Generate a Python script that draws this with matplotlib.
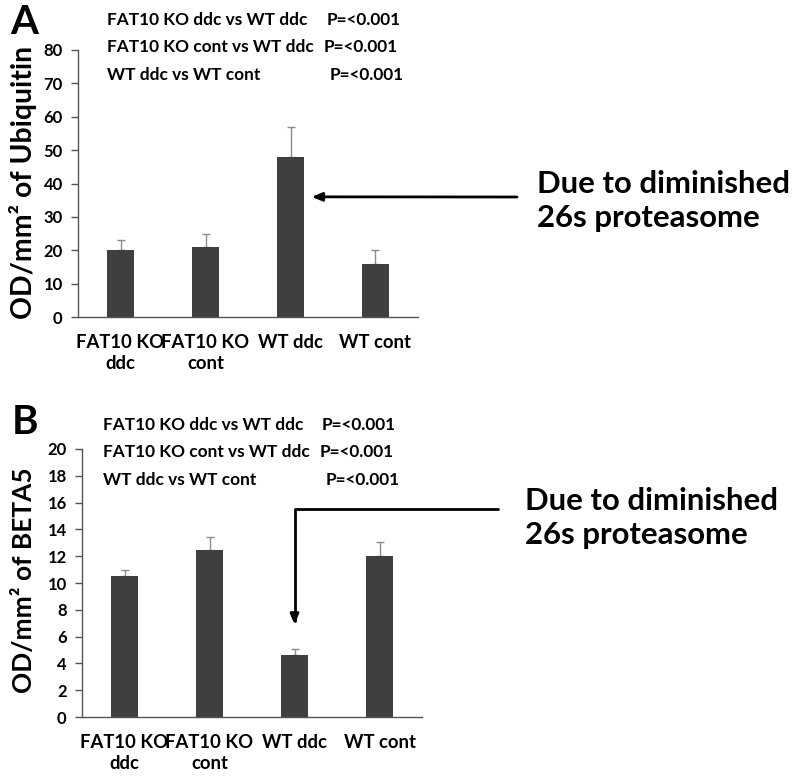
import matplotlib
matplotlib.use("Agg")
import matplotlib.pyplot as plt

plt.rcParams['font.family'] = ['Lato', 'DejaVu Sans']
plt.rcParams['font.weight'] = 'bold'

categories = ["FAT10 KO\nddc", "FAT10 KO\ncont", "WT ddc", "WT cont"]
ubiquitin = [20, 21, 48, 16]
ubiquitin_err = [3, 4, 9, 4]
beta5 = [10.5, 12.5, 4.6, 12.0]
beta5_err = [0.5, 0.9, 0.5, 1.05]
stats_labels = ["FAT10 KO ddc vs WT ddc", "FAT10 KO cont vs WT ddc", "WT ddc vs WT cont"]
stats_p = ["P=<0.001", "P=<0.001", "P=<0.001"]
note = "Due to diminished\n26s proteasome"

W, H = 794, 780
fig = plt.figure(figsize=(W / 100, H / 100), dpi=100)
fig.patch.set_facecolor('white')
renderer = fig.canvas.get_renderer()


def fx(px):
    return px / W


def fy(py):
    return 1 - py / H


def fit(t, target, dim='w'):
    bb = t.get_window_extent(renderer=renderer)
    cur = bb.width if dim == 'w' else bb.height
    if cur > 0:
        t.set_fontsize(t.get_fontsize() * target / cur)
    return t.get_fontsize()


def make_axes(left, right, top, bottom):
    return fig.add_axes([fx(left), fy(bottom), (right - left) / W, (bottom - top) / H])


axA = make_axes(78, 418, 50, 317)
axB = make_axes(82, 422, 449, 717)

bar_color = '#3f3f3f'
err_color = '#8c8c8c'


def style(ax, values, errs, ymax, step, ylabel, labelx, labely, label_len):
    x = list(range(len(categories)))
    ax.bar(x, values, width=0.32, color=bar_color, zorder=2)
    ax.errorbar(x, values, yerr=[[0] * len(errs), errs], fmt='none',
                ecolor=err_color, elinewidth=1.0, capsize=3, capthick=1.0, zorder=1)
    ax.set_xlim(-0.5, len(categories) - 0.5)
    ax.set_ylim(0, ymax)
    n = int(ymax / step) + 1
    ax.set_yticks([i * step for i in range(n)])
    ax.set_yticklabels([str(int(i * step)) for i in range(n)],
                       fontsize=12, fontweight='bold')
    ax.set_xticks(x)
    ax.set_xticklabels(categories, fontsize=13.3, fontweight='bold', linespacing=1.3)
    ax.tick_params(axis='x', length=0, pad=12)
    ax.tick_params(axis='y', length=5, width=1, color='#555555', pad=6)
    for s in ['top', 'right']:
        ax.spines[s].set_visible(False)
    for s in ['left', 'bottom']:
        ax.spines[s].set_color('#555555')
        ax.spines[s].set_linewidth(1)
    lab = ax.set_ylabel(ylabel, fontsize=20, fontweight='bold')
    ax.yaxis.set_label_coords(labelx, labely)
    fit(lab, label_len, 'h')


style(axA, ubiquitin, ubiquitin_err, 80, 10, "OD/mm² of Ubiquitin", -0.12, 0.505, 272)
style(axB, beta5, beta5_err, 20, 2, "OD/mm² of BETA5", -0.136, 0.51, 225)

# panel letters
fig.text(fx(10), fy(22), "A", fontsize=29, fontweight='bold', va='center', ha='left')
fig.text(fx(12), fy(423), "B", fontsize=29, fontweight='bold', va='center', ha='left')

# stats text
rowsA = [20, 47, 75]
pxA = [327, 324, 330]
rowsB = [425, 452, 480]
pxB = [322, 320, 326]
for rows, xl, pxs in [(rowsA, 107, pxA), (rowsB, 103, pxB)]:
    for i, (lab, p, ry, px) in enumerate(zip(stats_labels, stats_p, rows, pxs)):
        t = fig.text(fx(xl), fy(ry), lab, fontsize=12, fontweight='bold', va='center')
        if i == 0:
            fs = fit(t, 200)
        else:
            t.set_fontsize(fs)
        fig.text(fx(px), fy(ry), p, fontsize=fs, fontweight='bold', va='center')

# annotations
tA = fig.text(fx(537), fy(201), note, fontsize=20, fontweight='bold', va='center', ha='left',
              linespacing=1.3)
fit(tA, 253)
tB = fig.text(fx(525), fy(518), note, fontsize=20, fontweight='bold', va='center', ha='left',
              linespacing=1.3)
fit(tB, 253)

arrow = dict(arrowstyle='-|>,head_length=0.6,head_width=0.25', color='black', lw=2,
             shrinkA=0, shrinkB=0)
axA.annotate("", xy=(2.25, 36), xytext=(517, H - 197), textcoords='figure pixels',
             arrowprops=arrow, annotation_clip=False)
arrowB = dict(arrow, connectionstyle="angle,angleA=0,angleB=90,rad=0")
axB.annotate("", xy=(2, 6.9), xytext=(498, H - 509), textcoords='figure pixels',
             arrowprops=arrowB, annotation_clip=False)

fig.savefig("out.png", dpi=100, facecolor='white')
